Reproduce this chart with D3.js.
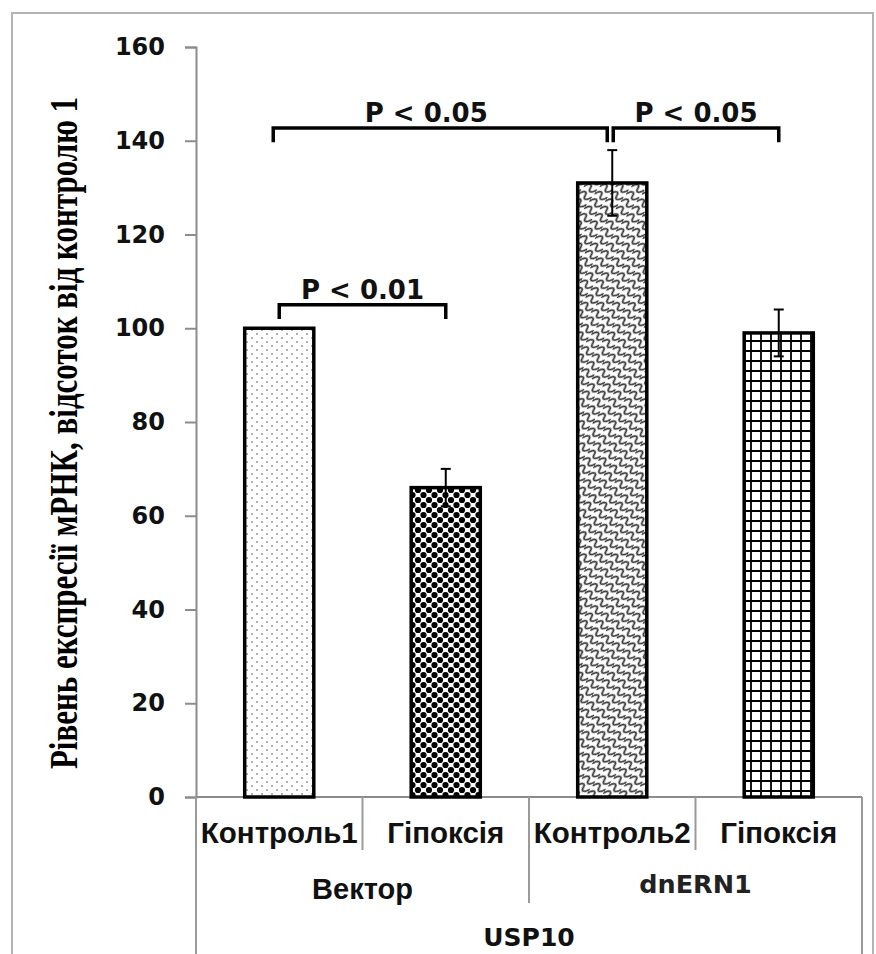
<!DOCTYPE html>
<html>
<head>
<meta charset="utf-8">
<script src="https://cdn.jsdelivr.net/npm/d3@7"></script>
<style>
  html, body { margin: 0; padding: 0; background: #fff; }
  svg { display: block; }
</style>
</head>
<body>
<svg id="chart" width="876" height="954"></svg>
<script>
// ---- data ----
const categories = ["Контроль1", "Гіпоксія", "Контроль2", "Гіпоксія"];
const groups = ["Вектор", "dnERN1"];
const outerGroup = "USP10";
const values = [100, 66, 131, 99];
const errors = [0, 4, 7, 5];
const yTicks = [0, 20, 40, 60, 80, 100, 120, 140, 160];
const yTitle = "Рівень експресії мРНК, відсоток від контролю 1";
// significance brackets: bar indices, bracket level, label
const bracketFrom = [0, 0, 2];
const bracketTo = [1, 2, 3];
const bracketLevel = [105, 142.7, 142.7];
const bracketLabel = ["P < 0.01", "P < 0.05", "P < 0.05"];

// ---- layout ----
const svg = d3.select("#chart");
const plot = { left: 196, right: 862, top: 47, bottom: 797 };

const x = d3.scaleBand()
  .domain(d3.range(categories.length))
  .range([plot.left, plot.right])
  .paddingInner(0.585)
  .paddingOuter(0.2925);
const step = x.step();
const cx = i => x(i) + x.bandwidth() / 2;

const y = d3.scaleLinear().domain([0, 160]).range([plot.bottom, plot.top]);

// ---- fill patterns ----
const defs = svg.append("defs");

const p1 = defs.append("pattern").attr("id", "pDots").attr("patternUnits", "userSpaceOnUse")
  .attr("width", 10).attr("height", 8);
p1.append("rect").attr("width", 10).attr("height", 8).attr("fill", "#fff");
p1.append("circle").attr("cx", 2).attr("cy", 2).attr("r", 1).attr("fill", "#999");
p1.append("circle").attr("cx", 7).attr("cy", 6).attr("r", 1).attr("fill", "#999");

const p2 = defs.append("pattern").attr("id", "pDiamond").attr("patternUnits", "userSpaceOnUse")
  .attr("width", 11).attr("height", 10);
p2.append("rect").attr("width", 11).attr("height", 10).attr("fill", "#fff");
[[0, 0], [11, 0], [0, 10], [11, 10], [5.5, 5]].forEach(([a, b]) =>
  p2.append("circle").attr("cx", a).attr("cy", b).attr("r", 3.1).attr("fill", "#000"));

const p3 = defs.append("pattern").attr("id", "pWave").attr("patternUnits", "userSpaceOnUse")
  .attr("width", 13).attr("height", 9).attr("patternTransform", "rotate(35)");
p3.append("rect").attr("width", 13).attr("height", 9).attr("fill", "#fff");
p3.append("path").attr("d", "M0,7 C3,0 6.5,0 6.5,4.5 C6.5,9 10,9 13,2")
  .attr("fill", "none").attr("stroke", "#333").attr("stroke-width", 1.8);

const p4 = defs.append("pattern").attr("id", "pGrid").attr("patternUnits", "userSpaceOnUse")
  .attr("width", 10).attr("height", 10);
p4.append("rect").attr("width", 10).attr("height", 10).attr("fill", "#fff");
p4.append("path").attr("d", "M0,1 H10 M1,0 V10")
  .attr("fill", "none").attr("stroke", "#000").attr("stroke-width", 1.8);

const fills = ["url(#pDots)", "url(#pDiamond)", "url(#pWave)", "url(#pGrid)"];

// ---- outer frame ----
svg.append("rect").attr("x", 12).attr("y", 13).attr("width", 861).attr("height", 960)
  .attr("fill", "none").attr("stroke", "#b4b4b4").attr("stroke-width", 2);

// ---- y axis ----
const yAxis = svg.append("g").attr("transform", `translate(${plot.left},0)`)
  .call(d3.axisLeft(y).tickValues(yTicks).tickSize(11).tickPadding(20).tickFormat(d3.format("d")));
yAxis.select(".domain").attr("stroke", "#8c8c8c").attr("stroke-width", 2);
yAxis.selectAll(".tick line").attr("stroke", "#8c8c8c").attr("stroke-width", 2);
yAxis.selectAll(".tick text")
  .attr("font-family", "DejaVu Sans, Verdana, sans-serif")
  .attr("font-weight", "bold").attr("font-size", 24).attr("fill", "#111");

// ---- category axis (three levels) ----
const axisColor = "#9a9a9a";
svg.append("line").attr("x1", plot.left).attr("x2", plot.right)
  .attr("y1", plot.bottom).attr("y2", plot.bottom)
  .attr("stroke", "#8c8c8c").attr("stroke-width", 2);

const seps = svg.append("g").attr("stroke", axisColor).attr("stroke-width", 2);
d3.range(categories.length + 1).forEach(i => {
  const sx = plot.left + i * step;
  let len = 53;
  if (i === 2) len = 106;
  if (i === 0 || i === categories.length) len = 170;
  seps.append("line").attr("x1", sx).attr("x2", sx)
    .attr("y1", plot.bottom).attr("y2", plot.bottom + len);
});

svg.append("g").selectAll("text").data(categories).join("text")
  .attr("x", (d, i) => cx(i)).attr("y", 843)
  .attr("text-anchor", "middle")
  .attr("font-family", "Liberation Sans, Arial, sans-serif")
  .attr("font-weight", "bold").attr("font-size", 29.5).attr("fill", "#111")
  .text(d => d);

svg.append("text").attr("x", (cx(0) + cx(1)) / 2).attr("y", 899)
  .attr("text-anchor", "middle")
  .attr("font-family", "Liberation Sans, Arial, sans-serif")
  .attr("font-weight", "bold").attr("font-size", 29).attr("fill", "#111")
  .text(groups[0]);
svg.append("text").attr("x", (cx(2) + cx(3)) / 2).attr("y", 893)
  .attr("text-anchor", "middle")
  .attr("font-family", "DejaVu Sans, Verdana, sans-serif")
  .attr("font-weight", "bold").attr("font-size", 25.5).attr("fill", "#222")
  .text(groups[1]);
svg.append("text").attr("x", (plot.left + plot.right) / 2).attr("y", 946)
  .attr("text-anchor", "middle")
  .attr("font-family", "DejaVu Sans, Verdana, sans-serif")
  .attr("font-weight", "bold").attr("font-size", 25).attr("fill", "#111")
  .text(outerGroup);

// ---- y title ----
svg.append("text")
  .attr("transform", "translate(77,433) scale(1.3,1) rotate(-90)")
  .attr("text-anchor", "middle")
  .attr("font-family", "Liberation Serif, Times New Roman, serif")
  .attr("font-weight", "bold").attr("font-size", 31).attr("fill", "#000")
  .text(yTitle);

// ---- bars ----
svg.append("g").selectAll("rect").data(values).join("rect")
  .attr("x", (d, i) => x(i)).attr("width", x.bandwidth())
  .attr("y", d => y(d)).attr("height", d => y(0) - y(d))
  .attr("fill", (d, i) => fills[i])
  .attr("stroke", "#000").attr("stroke-width", 3.5);

// ---- error bars ----
const eb = svg.append("g").attr("stroke", "#000").attr("stroke-width", 2);
values.forEach((v, i) => {
  if (!errors[i]) return;
  const ex = cx(i);
  eb.append("line").attr("x1", ex).attr("x2", ex).attr("y1", y(v + errors[i])).attr("y2", y(v - errors[i]));
  [v + errors[i], v - errors[i]].forEach(e =>
    eb.append("line").attr("x1", ex - 5).attr("x2", ex + 5).attr("y1", y(e)).attr("y2", y(e)));
});

// ---- significance brackets ----
const labelShift = [0, -14, 0];
const br = svg.append("g");
bracketLabel.forEach((lab, k) => {
  let x1 = cx(bracketFrom[k]), x2 = cx(bracketTo[k]);
  if (k === 1) { x1 -= 6; x2 -= 5; }
  if (k === 2) { x1 += 1; }
  const yl = y(bracketLevel[k]);
  const yd = y(bracketLevel[k] - 3);
  br.append("path")
    .attr("d", `M${x1},${yd} V${yl} H${x2} V${yd}`)
    .attr("fill", "none").attr("stroke", "#000").attr("stroke-width", 3.5);
  br.append("text").attr("x", (x1 + x2) / 2 + labelShift[k]).attr("y", yl - 6)
    .attr("text-anchor", "middle")
    .attr("font-family", "DejaVu Sans, Verdana, sans-serif")
    .attr("font-weight", "bold").attr("font-size", 26).attr("fill", "#111")
    .text(lab);
});
</script>
</body>
</html>
